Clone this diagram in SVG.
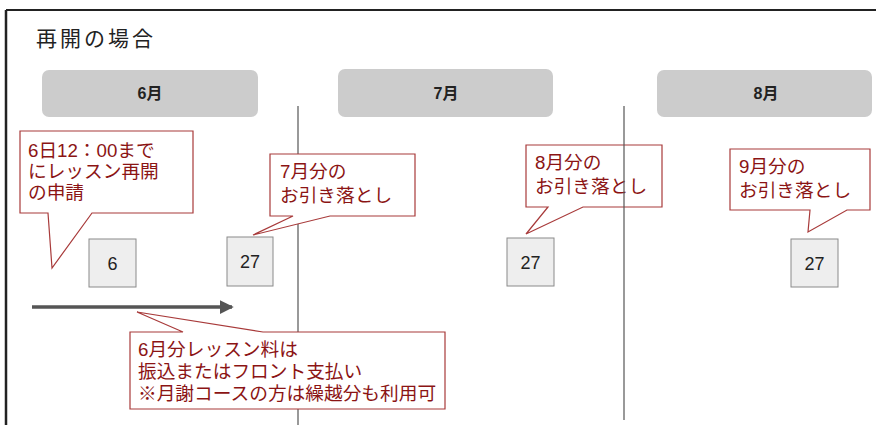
<svg xmlns="http://www.w3.org/2000/svg" width="876" height="425" viewBox="0 0 876 425">
<style>
.month{fill:#cccccc;stroke:none}
.mt{font-family:"Liberation Sans","Noto Sans CJK JP",sans-serif;font-weight:bold;font-size:16px;fill:#222;text-anchor:middle}
.day{fill:#eeeeee;stroke:#8a8a8a;stroke-width:1}
.dt{font-family:"Liberation Sans","Noto Sans CJK JP",sans-serif;font-size:18px;fill:#222;text-anchor:middle}
.call{fill:#ffffff;stroke:#a83a3a;stroke-width:1.2;stroke-linejoin:miter}
.ct{font-family:"Liberation Sans","Noto Sans CJK JP",sans-serif;font-size:18.7px;fill:#8b1414}
.vline{stroke:#555;stroke-width:1.2}
</style>
<defs>
<marker id="ah" markerWidth="4" markerHeight="4" refX="3.5" refY="2" orient="auto" markerUnits="strokeWidth">
<path d="M0,0 L4,2 L0,4 Z" fill="#555"/>
</marker>
</defs>
<rect width="876" height="425" fill="#ffffff"/>
<g id="frame">
<line x1="6" y1="10" x2="876" y2="10" stroke="#222" stroke-width="2"/>
<line x1="6" y1="10" x2="6" y2="425" stroke="#222" stroke-width="2.5"/>
</g>
<text x="36" y="46" font-family="'Noto Sans CJK JP',sans-serif" font-size="21" letter-spacing="3" fill="#222">再開の場合</text>
<g id="month6"><rect class="month" x="42" y="70" width="216" height="47" rx="7"/><text class="mt" x="150" y="99">6月</text></g>
<g id="month7"><rect class="month" x="338" y="69" width="215" height="48" rx="7"/><text class="mt" x="446" y="99">7月</text></g>
<g id="month8"><rect class="month" x="657" y="70" width="215" height="47" rx="7"/><text class="mt" x="766" y="99">8月</text></g>
<g id="connectors">
<line class="vline" x1="298" y1="106" x2="298" y2="425"/>
<line x1="32" y1="307" x2="232" y2="307" stroke="#555" stroke-width="3.5" marker-end="url(#ah)"/>
</g>
<g id="day6"><rect class="day" x="89" y="239" width="47" height="48"/><text class="dt" x="112.5" y="270">6</text></g>
<g id="day27a"><rect class="day" x="227" y="237" width="46" height="49"/><text class="dt" x="250" y="268">27</text></g>
<g id="day27b"><rect class="day" x="507" y="238" width="47" height="48"/><text class="dt" x="530.5" y="269">27</text></g>
<g id="day27c"><rect class="day" x="791" y="239" width="47" height="48"/><text class="dt" x="814.5" y="270">27</text></g>
<g id="callout1">
<path class="call" d="M20,131 H193 V213 H92 L52,268 L48,213 H20 Z"/>
<text class="ct" x="28" y="157">6日12：00まで</text>
<text class="ct" x="28" y="178">にレッスン再開</text>
<text class="ct" x="28" y="199">の申請</text>
</g>
<g id="callout2">
<path class="call" d="M270,154 H415 V216 H330 L253,235 L293,216 H270 Z"/>
<text class="ct" x="280" y="178">7月分の</text>
<text class="ct" x="280" y="202">お引き落とし</text>
</g>
<g id="callout3">
<path class="call" d="M526,145 H662 V207 H583 L526,234 L548,207 H526 Z"/>
<text class="ct" x="535" y="169">8月分の</text>
<text class="ct" x="535" y="193">お引き落とし</text>
</g>
<line class="vline" x1="624" y1="106" x2="624" y2="420"/>
<g id="callout4">
<path class="call" d="M730,149 H870 V210 H847 L808,232 L810,210 H730 Z"/>
<text class="ct" x="739" y="173">9月分の</text>
<text class="ct" x="739" y="197">お引き落とし</text>
</g>
<g id="callout5">
<path class="call" d="M130,332 H183 L137,312 L263,332 H445 V409 H130 Z"/>
<text class="ct" x="138" y="356">6月分レッスン料は</text>
<text class="ct" x="138" y="378">振込またはフロント支払い</text>
<text class="ct" x="138" y="400">※月謝コースの方は繰越分も利用可</text>
</g>
</svg>
